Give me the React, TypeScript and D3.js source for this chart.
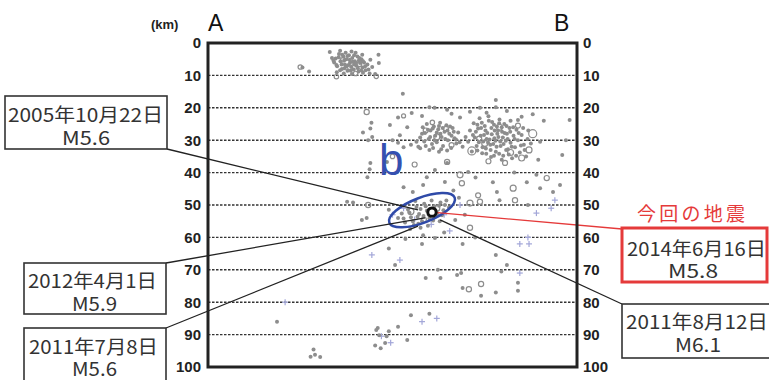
import React from 'react';
import * as d3 from 'd3';

// depth ticks (km), horizontal axis is distance along profile A-B (arbitrary 0-100)
const depthTicks = [0, 10, 20, 30, 40, 50, 60, 70, 80, 90, 100];

// small filled hypocentres [distance, depth]
const grayDots: [number, number][] = [
  // shallow cluster
  [25.6, 7.6], [27.4, 8.8], [33.0, 2.8], [33.6, 4.6], [34.2, 6.0], [34.6, 4.8], [35.0, 7.2], [35.5, 3.4],
  [35.9, 5.6], [36.3, 8.0], [36.7, 4.2], [37.1, 6.6], [37.5, 5.0], [37.8, 8.6], [38.2, 3.8], [38.5, 6.0],
  [38.8, 7.4], [39.1, 4.6], [39.5, 8.2], [39.8, 5.6], [40.2, 7.0], [40.5, 4.2], [40.8, 8.8], [41.2, 6.2],
  [41.6, 5.0], [41.9, 7.6], [42.3, 6.0], [42.7, 8.4], [43.2, 6.6], [43.8, 9.4], [44.5, 7.4], [45.3, 9.6],
  [46.2, 3.6], [46.3, 6.2], [36.8, 9.4], [34.9, 9.0], [39.0, 9.6], [40.0, 3.0], [44.0, 5.2], [35.8, 2.4],
  [37.0, 7.8], [38.4, 5.2], [39.6, 6.6], [40.9, 5.4], [36.2, 6.6], [42.0, 9.2],
  [34.0, 5.4], [34.8, 6.8], [35.4, 4.4], [35.8, 8.4], [36.4, 3.6], [36.9, 5.4], [37.4, 7.2], [37.8, 4.0],
  [38.1, 6.8], [38.7, 8.6], [39.2, 5.8], [39.6, 3.8], [40.1, 6.2], [40.6, 7.8], [41.0, 4.6], [41.5, 8.4],
  [42.0, 5.6], [42.6, 7.2], [43.5, 8.2], [37.3, 3.0], [38.9, 2.6], [41.8, 3.6],
  // left column
  [44.3, 24.6], [44.0, 26.4], [42.0, 27.6], [43.4, 30.0], [44.5, 29.0], [44.0, 37.0], [43.8, 39.0],
  [43.2, 41.4], [37.7, 49.0], [39.3, 49.2], [43.0, 54.0], [41.7, 54.6], [49.0, 51.5], [48.5, 36.7],
  [52.8, 15.7], [49.3, 25.3], [51.5, 23.0],
  // upper band
  [60.0, 19.8], [61.4, 20.0], [64.8, 20.6], [73.7, 20.0], [78.0, 19.8], [78.0, 17.6], [85.0, 22.8],
  [84.0, 23.8], [68.3, 23.0], [55.2, 21.6], [58.0, 22.5], [66.0, 21.8], [71.0, 21.2], [75.5, 21.5],
  [81.0, 21.0], [88.0, 22.0], [91.0, 24.0], [98.0, 23.8], [54.0, 26.0], [52.0, 28.5], [50.0, 30.0],
  // left sub-cluster
  [56.5, 30.5], [57.5, 29.2], [58.2, 26.0], [58.8, 27.8], [59.3, 25.0], [59.8, 29.6], [60.3, 27.0],
  [60.7, 31.2], [61.2, 25.8], [61.6, 28.6], [62.0, 30.6], [62.4, 26.6], [62.9, 24.6], [63.3, 29.0],
  [63.7, 31.8], [64.1, 27.4], [64.6, 25.4], [65.0, 30.0], [65.4, 28.0], [65.9, 32.4], [66.3, 26.2],
  [66.8, 29.4], [67.3, 31.0], [67.8, 27.6], [60.0, 33.0], [62.6, 33.6], [64.8, 33.2], [57.0, 32.0],
  [55.0, 31.4], [53.0, 32.2], [51.5, 30.8], [69.0, 32.0], [69.8, 29.0],
  [58.0, 28.0], [58.6, 30.4], [59.6, 26.8], [60.2, 29.0], [60.9, 26.4], [61.4, 30.0], [62.0, 27.6],
  [62.6, 25.6], [63.0, 28.0], [63.6, 26.2], [64.3, 29.6], [64.9, 27.0], [65.6, 25.8], [66.0, 28.6],
  [66.6, 27.4], [61.0, 32.4], [63.2, 32.8], [59.0, 31.8], [67.2, 29.8], [68.2, 30.6],
  // right dense cluster
  [70.5, 30.5], [71.0, 27.0], [71.5, 33.5], [72.0, 24.8], [72.3, 29.2], [72.8, 31.8], [73.2, 26.4],
  [73.6, 23.2], [73.9, 28.6], [74.3, 34.0], [74.6, 30.4], [75.0, 25.6], [75.3, 32.6], [75.7, 27.8],
  [76.0, 22.6], [76.3, 29.8], [76.7, 35.2], [77.0, 24.4], [77.3, 31.2], [77.7, 27.0], [78.0, 33.6],
  [78.3, 25.8], [78.7, 29.0], [79.0, 23.6], [79.3, 31.8], [79.7, 27.4], [80.0, 34.8], [80.3, 25.0],
  [80.7, 30.2], [81.0, 28.0], [81.3, 32.8], [81.7, 26.2], [82.0, 30.8], [82.4, 35.6], [82.8, 28.6],
  [83.2, 32.2], [83.6, 26.8], [84.0, 30.0], [84.5, 33.8], [85.0, 28.4], [85.6, 31.4], [86.2, 35.0],
  [74.0, 26.2], [75.9, 30.8], [77.9, 30.2], [79.9, 29.2], [76.8, 26.2], [78.6, 27.0], [80.8, 33.0],
  [74.8, 28.4], [73.0, 33.2], [82.0, 24.0], [86.8, 27.0], [87.5, 31.0], [89.5, 36.0], [90.0, 30.5],
  [71.8, 28.4], [72.6, 27.4], [73.4, 30.6], [74.2, 24.6], [74.4, 32.2], [75.2, 27.0], [75.5, 29.6],
  [76.1, 24.0], [76.5, 31.4], [76.9, 28.2], [77.5, 25.2], [77.6, 29.4], [78.2, 32.0], [78.4, 28.0],
  [78.9, 24.8], [79.2, 30.4], [79.6, 26.0], [80.1, 31.2], [80.4, 27.8], [80.9, 25.6], [81.2, 29.6],
  [81.5, 34.4], [81.9, 27.4], [82.3, 32.0], [82.7, 26.0], [83.1, 29.6], [83.5, 34.8], [84.2, 27.8],
  [84.8, 31.6], [85.4, 26.2], [75.4, 34.2], [77.5, 34.8], [79.6, 36.0], [76.6, 33.0], [78.9, 34.2],
  [73.0, 25.2], [85.8, 33.0], [86.6, 29.6],
  // middle scatter
  [57.5, 32.5], [64.8, 37.0], [70.5, 39.8], [64.2, 42.9], [77.2, 43.0], [78.3, 46.0], [86.4, 43.0],
  [89.0, 40.7], [90.0, 44.8], [95.4, 43.8], [93.5, 46.0], [97.0, 30.0], [96.0, 34.6], [59.3, 41.4],
  [61.5, 39.2], [58.3, 43.8], [79.0, 48.5], [86.7, 50.0], [66.5, 45.5], [72.5, 41.5], [83.0, 40.0],
  [68.0, 47.8], [55.5, 46.0], [53.0, 44.5],
  // ellipse cluster
  [51.5, 54.0], [52.5, 52.6], [53.4, 55.4], [54.2, 51.4], [55.0, 53.8], [55.8, 56.2], [56.5, 50.6],
  [57.2, 52.8], [58.0, 55.0], [58.6, 49.6], [59.3, 51.8], [60.0, 54.2], [60.6, 48.6], [61.4, 50.4],
  [62.2, 53.0], [63.0, 49.2], [63.8, 51.6], [64.6, 48.6], [65.3, 50.8], [57.6, 57.0], [54.8, 57.4],
  [62.8, 55.0], [59.6, 56.4], [56.2, 48.8],
  [53.0, 54.2], [54.6, 52.4], [55.5, 55.0], [56.8, 53.6], [57.6, 51.2], [58.4, 53.4], [59.0, 50.4],
  [59.8, 53.0], [60.4, 51.2], [61.0, 54.8], [61.8, 52.2], [62.6, 50.2], [63.4, 53.2], [64.2, 50.0],
  [57.0, 55.8],
  // below ellipse
  [58.3, 59.3], [61.5, 60.2], [72.4, 60.0], [67.0, 54.6], [69.6, 53.0], [58.0, 62.0], [69.0, 62.0],
  [49.0, 63.4], [50.7, 68.5], [64.0, 58.5], [53.5, 60.5],
  // deeper
  [69.0, 75.6], [74.0, 78.0], [78.0, 77.0], [84.0, 76.5], [84.0, 74.0], [78.0, 65.4], [81.0, 68.5],
  [59.0, 72.5], [63.0, 72.5], [67.5, 71.6], [62.3, 70.0], [60.0, 83.6], [55.0, 84.0], [49.0, 89.0],
  [48.4, 90.5], [48.0, 92.6], [54.0, 91.7], [51.5, 87.6], [18.7, 86.0], [27.8, 96.8], [29.0, 96.2],
  [30.4, 96.9], [28.6, 94.6], [45.6, 88.6], [46.4, 90.2], [45.3, 93.4], [46.8, 94.2], [46.0, 88.0],
  [68.6, 71.0], [79.5, 70.5],
];

// open circles [distance, depth, size]
const grayRings: [number, number, number][] = [
  [25.0, 7.4, 2.2], [34.8, 10.4, 2.2], [45.6, 10.3, 2.2], [38.5, 7.5, 2.5], [41.0, 6.5, 2.5],
  [36.5, 5.2, 2.2], [40.0, 9.4, 2.2], [43.0, 21.3, 2.6], [43.4, 50.0, 2.6], [53.0, 22.5, 2],
  [59.0, 27.0, 2.5], [62.0, 29.0, 3], [64.5, 26.5, 2.5], [66.0, 31.5, 2.5], [60.8, 24.5, 2.2],
  [88.0, 28.0, 4], [71.5, 33.3, 4], [75.0, 31.0, 3], [79.0, 26.0, 3], [82.0, 33.8, 3],
  [76.0, 36.5, 2.5], [85.0, 35.5, 3], [84.0, 25.5, 2.5], [73.5, 29.5, 2.5], [80.5, 37.0, 2.5],
  [87.0, 33.0, 3], [64.8, 36.7, 2.6], [68.3, 40.7, 3], [68.8, 43.3, 2.6], [73.7, 49.0, 2.6],
  [71.0, 49.4, 3], [82.7, 44.8, 3], [91.8, 41.7, 2.6], [73.2, 47.0, 2.5], [83.2, 48.5, 2.6],
  [71.0, 57.0, 2.6], [70.7, 76.0, 2.6], [74.0, 74.4, 2.6], [55.0, 52.0, 3], [62.0, 51.0, 3],
  [58.5, 54.5, 2.5], [50.0, 35.0, 2.2], [56.0, 37.5, 2.5],
];

// pale blue crosses [distance, depth]
const bluePlus: [number, number][] = [
  [20.9, 80.0], [44.4, 65.4], [52.0, 67.0], [84.5, 62.0], [87.0, 62.0], [84.5, 71.0], [58.0, 86.0],
  [62.0, 85.0], [47.0, 90.5], [49.5, 92.5], [93.0, 51.0], [94.0, 48.5], [86.7, 60.0], [68.3, 50.0],
  [53.0, 51.0], [56.0, 54.5], [60.5, 56.0], [64.0, 53.0], [65.5, 58.0], [89.0, 52.5], [50.0, 53.0],
];

// labelled events
const eventIds = ['e2005', 'e2012', 'e2011a', 'e2014', 'e2011b'];
const eventDates = ['2005年10月22日', '2012年4月1日', '2011年7月8日', '2014年6月16日', '2011年8月12日'];
const eventMags = ['M5.6', 'M5.9', 'M5.6', 'M5.8', 'M6.1'];
const eventPos: [number, number][] = [[56.9, 51.5], [58.8, 54.0], [56.9, 56.5], [60.7, 52.2], [62.9, 54.6]];

// annotation box layout
const boxes: Record<string, any> = {
  e2005: { x: 5, y: 96, w: 162, h: 53, ax: 167, ay: 149, l1: [8, 122, 155], l2: [62, 145, 48] },
  e2012: { x: 24, y: 263, w: 142, h: 51, ax: 166, ay: 263, l1: [28, 288, 129], l2: [72, 311, 45] },
  e2011a: { x: 24, y: 328, w: 142, h: 64, ax: 166, ay: 328, l1: [29, 354, 129], l2: [72, 376, 45] },
  e2014: { x: 622, y: 228, w: 145, h: 54, ax: 622, ay: 229, l1: [627, 256, 139], l2: [668, 278, 50], red: true },
  e2011b: { x: 622, y: 304, w: 160, h: 54, ax: 622, ay: 304, l1: [626, 329, 142], l2: [675, 352, 46] },
};

const W = 769, H = 380;

export default function App() {
  const x = d3.scaleLinear().domain([0, 100]).range([208, 577]);
  const y = d3.scaleLinear().domain([0, 100]).range([43, 367]);
  const gray = '#8d8d8d';
  const blue = '#a2a6d8';
  const cjk = "'Noto Sans CJK JP', sans-serif";
  const axisFont = "'Liberation Sans', Arial, sans-serif";

  const [ecx, ecy] = [x(58), y(51.6)];

  return (
    <svg width={W} height={H} style={{ position: 'absolute', left: 0, top: 0, background: '#fff' }}>
      {/* grid */}
      {depthTicks.slice(1, -1).map(t => (
        <line key={t} x1={x(0)} x2={x(100)} y1={y(t)} y2={y(t)}
          stroke="#333" strokeWidth={1.4} strokeDasharray="2.5 1.5" />
      ))}

      {/* hypocentres */}
      {bluePlus.map((p, i) => (
        <g key={'b' + i} stroke={blue} strokeWidth={1.2}>
          <line x1={x(p[0]) - 3} x2={x(p[0]) + 3} y1={y(p[1])} y2={y(p[1])} />
          <line x1={x(p[0])} x2={x(p[0])} y1={y(p[1]) - 3} y2={y(p[1]) + 3} />
        </g>
      ))}
      {grayDots.map((p, i) => (
        <circle key={'d' + i} cx={x(p[0])} cy={y(p[1])} r={2} fill={gray} />
      ))}
      {grayRings.map((p, i) => (
        <circle key={'r' + i} cx={x(p[0])} cy={y(p[1])} r={p[2]} fill="none" stroke={gray} strokeWidth={1.2} />
      ))}

      {/* region b */}
      <ellipse cx={ecx} cy={ecy} rx={35} ry={12.5} fill="none" stroke="#2f4aa8" strokeWidth={2.5}
        transform={`rotate(-21 ${ecx} ${ecy})`} />
      <text x={379} y={175} fontFamily={axisFont} fontSize={44} fill="#3550b0">b</text>

      {/* leader lines */}
      {eventIds.map((id, i) => {
        const b = boxes[id];
        return (
          <line key={'l' + id} x1={x(eventPos[i][0])} y1={y(eventPos[i][1])} x2={b.ax} y2={b.ay}
            stroke={b.red ? '#e53a3a' : '#222'} strokeWidth={1.3} />
        );
      })}
      <circle cx={x(eventPos[3][0])} cy={y(eventPos[3][1])} r={4.2} fill="#fff" stroke="#111" strokeWidth={3} />

      {/* frame */}
      <rect x={x(0)} y={y(0)} width={x(100) - x(0)} height={y(100) - y(0)} fill="none" stroke="#222" strokeWidth={3} />

      {/* depth labels */}
      {depthTicks.map(t => (
        <g key={'t' + t} fontFamily={axisFont} fontWeight="bold" fontSize={15} fill="#222">
          <text x={201} y={y(t)} dy="0.36em" textAnchor="end">{t}</text>
          <text x={583} y={y(t)} dy="0.36em">{t}</text>
        </g>
      ))}
      <text x={151} y={29} fontFamily={axisFont} fontWeight="bold" fontSize={13} fill="#222">(km)</text>
      <text x={208} y={31} fontFamily={axisFont} fontSize={23} fill="#111">A</text>
      <text x={554} y={31} fontFamily={axisFont} fontSize={23} fill="#111">B</text>

      {/* event boxes */}
      <text x={637} y={221} fontFamily={cjk} fontSize={19} fill="#e53a3a" textLength={108}
        lengthAdjust="spacing">今回の地震</text>
      {eventIds.map((id, i) => {
        const b = boxes[id];
        return (
          <g key={'bx' + id}>
            <rect x={b.x} y={b.y} width={b.w} height={b.h} fill="#fff"
              stroke={b.red ? '#e53a3a' : '#333'} strokeWidth={b.red ? 3 : 1.6} />
            <text fontFamily={cjk} fontSize={19} fill="#333">
              <tspan x={b.l1[0]} y={b.l1[1]} textLength={b.l1[2]} lengthAdjust="spacingAndGlyphs">{eventDates[i]}</tspan>
              <tspan x={b.l2[0]} y={b.l2[1]} textLength={b.l2[2]} lengthAdjust="spacingAndGlyphs">{eventMags[i]}</tspan>
            </text>
          </g>
        );
      })}
    </svg>
  );
}
